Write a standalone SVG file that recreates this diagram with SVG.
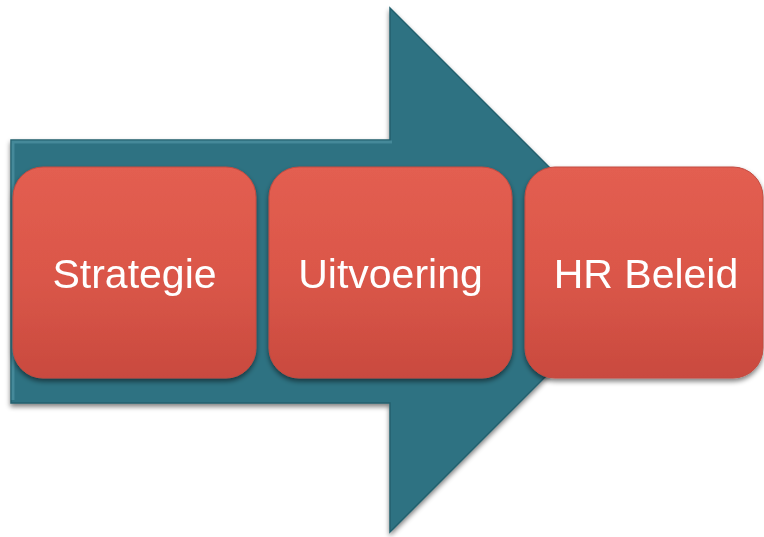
<svg xmlns="http://www.w3.org/2000/svg" width="764" height="537" viewBox="0 0 764 537">
<defs>
<linearGradient id="red" x1="0" y1="0" x2="0" y2="1">
<stop offset="0" stop-color="#e35e51"/>
<stop offset="0.5" stop-color="#db5749"/>
<stop offset="1" stop-color="#c94a3f"/>
</linearGradient>
<filter id="sh" x="-10%" y="-10%" width="120%" height="125%">
<feGaussianBlur in="SourceAlpha" stdDeviation="2.5"/>
<feOffset dx="0" dy="3" result="b"/>
<feComponentTransfer><feFuncA type="linear" slope="0.5"/></feComponentTransfer>
<feMerge><feMergeNode/><feMergeNode in="SourceGraphic"/></feMerge>
</filter>
<style>
.box{fill:url(#red);stroke:#c24b40;stroke-width:1}
.hl{fill:none;stroke:#ee7a6e;stroke-width:2;opacity:0.6}
.lbl{font-family:"Liberation Sans",Arial,sans-serif;font-size:41px;fill:#ffffff;text-anchor:middle}
</style>
</defs>
<g id="arrow" filter="url(#sh)">
<polygon points="11,140 390,140 390,8 652,270 390,532 390,403 11,403" fill="#2f7282" stroke="#24606e" stroke-width="1.5"/>
<polyline points="13,400 13,142 392,142" fill="none" stroke="#4d93a2" stroke-width="3" opacity="0.7"/>
</g>
<g id="node-strategie" filter="url(#sh)">
<rect class="box" x="13" y="167" width="243" height="211" rx="30"/>
<text class="lbl" x="134.5" y="288">Strategie</text>
</g>
<g id="node-uitvoering" filter="url(#sh)">
<rect class="box" x="269" y="167" width="243" height="211" rx="30"/>
<text class="lbl" x="390.5" y="288">Uitvoering</text>
</g>
<g id="node-hrbeleid" filter="url(#sh)">
<rect class="box" x="525" y="167" width="238" height="211" rx="30"/>
<text class="lbl" x="646" y="288">HR Beleid</text>
</g>
<g id="connectors"/>
</svg>
